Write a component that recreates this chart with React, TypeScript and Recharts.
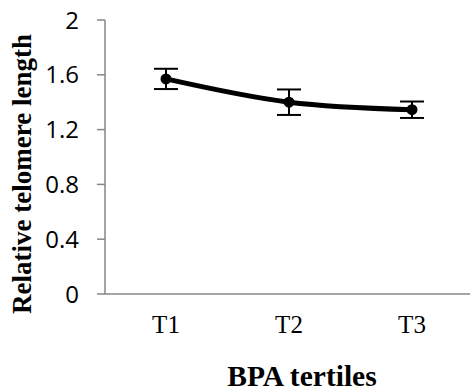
import { LineChart, Line, XAxis, YAxis, ErrorBar, Label } from "recharts";

const tertiles = ["T1", "T2", "T3"];
const telomereLength = [1.57, 1.4, 1.345];
const stdError = [0.074, 0.093, 0.06];
const yTicks = [0, 0.4, 0.8, 1.2, 1.6, 2];

const data = tertiles.map((name, i) => ({
  name,
  value: telomereLength[i],
  err: stdError[i],
}));

const serif = "'Liberation Serif', 'Times New Roman', serif";

function YTitle({ viewBox }: { viewBox?: { x: number; y: number; width: number; height: number } }) {
  if (!viewBox) return null;
  const x = viewBox.x + 31;
  const y = viewBox.y + viewBox.height / 2 + 17;
  return (
    <text
      x={x}
      y={y}
      transform={`rotate(-90, ${x}, ${y})`}
      textAnchor="middle"
      fontFamily={serif}
      fontWeight="bold"
      fontSize={27}
      fill="#000"
    >
      Relative telomere length
    </text>
  );
}

function XTitle({ viewBox }: { viewBox?: { x: number; y: number; width: number; height: number } }) {
  if (!viewBox) return null;
  return (
    <text
      x={viewBox.x + viewBox.width / 2 + 13}
      y={viewBox.y + viewBox.height - 6}
      textAnchor="middle"
      fontFamily={serif}
      fontWeight="bold"
      fontSize={29.5}
      fill="#000"
    >
      BPA tertiles
    </text>
  );
}

export default function App() {
  return (
    <div
      style={{
        position: "absolute",
        left: 0,
        top: 0,
        width: 470,
        height: 392,
        overflow: "hidden",
        background: "#fff",
      }}
    >
      <LineChart
        width={473}
        height={392}
        data={data}
        margin={{ top: 20, right: 0, left: 0, bottom: 0 }}
      >
        <XAxis
          dataKey="name"
          height={98}
          padding={{ left: 61, right: 61 }}
          axisLine={{ stroke: "#868686", strokeWidth: 1.5 }}
          tickLine={false}
          tickSize={0}
          tickMargin={21}
          tick={{ fill: "#000", fontSize: 25, fontFamily: serif }}
        >
          <Label content={<XTitle />} />
        </XAxis>
        <YAxis
          width={105}
          domain={[0, 2]}
          ticks={yTicks}
          interval={0}
          axisLine={{ stroke: "#868686", strokeWidth: 1.5 }}
          tickLine={{ stroke: "#868686", strokeWidth: 1.5 }}
          tickSize={8}
          tickMargin={18}
          tick={{ fill: "#000", fontSize: 24, fontFamily: "'Open Sans', sans-serif" }}
        >
          <Label content={<YTitle />} />
        </YAxis>
        <Line
          type="monotone"
          dataKey="value"
          stroke="#000"
          strokeWidth={5}
          dot={{ r: 3, fill: "#000", stroke: "#000" }}
          isAnimationActive={false}
        >
          <ErrorBar dataKey="err" width={12} stroke="#000" strokeWidth={2} />
        </Line>
      </LineChart>
    </div>
  );
}
